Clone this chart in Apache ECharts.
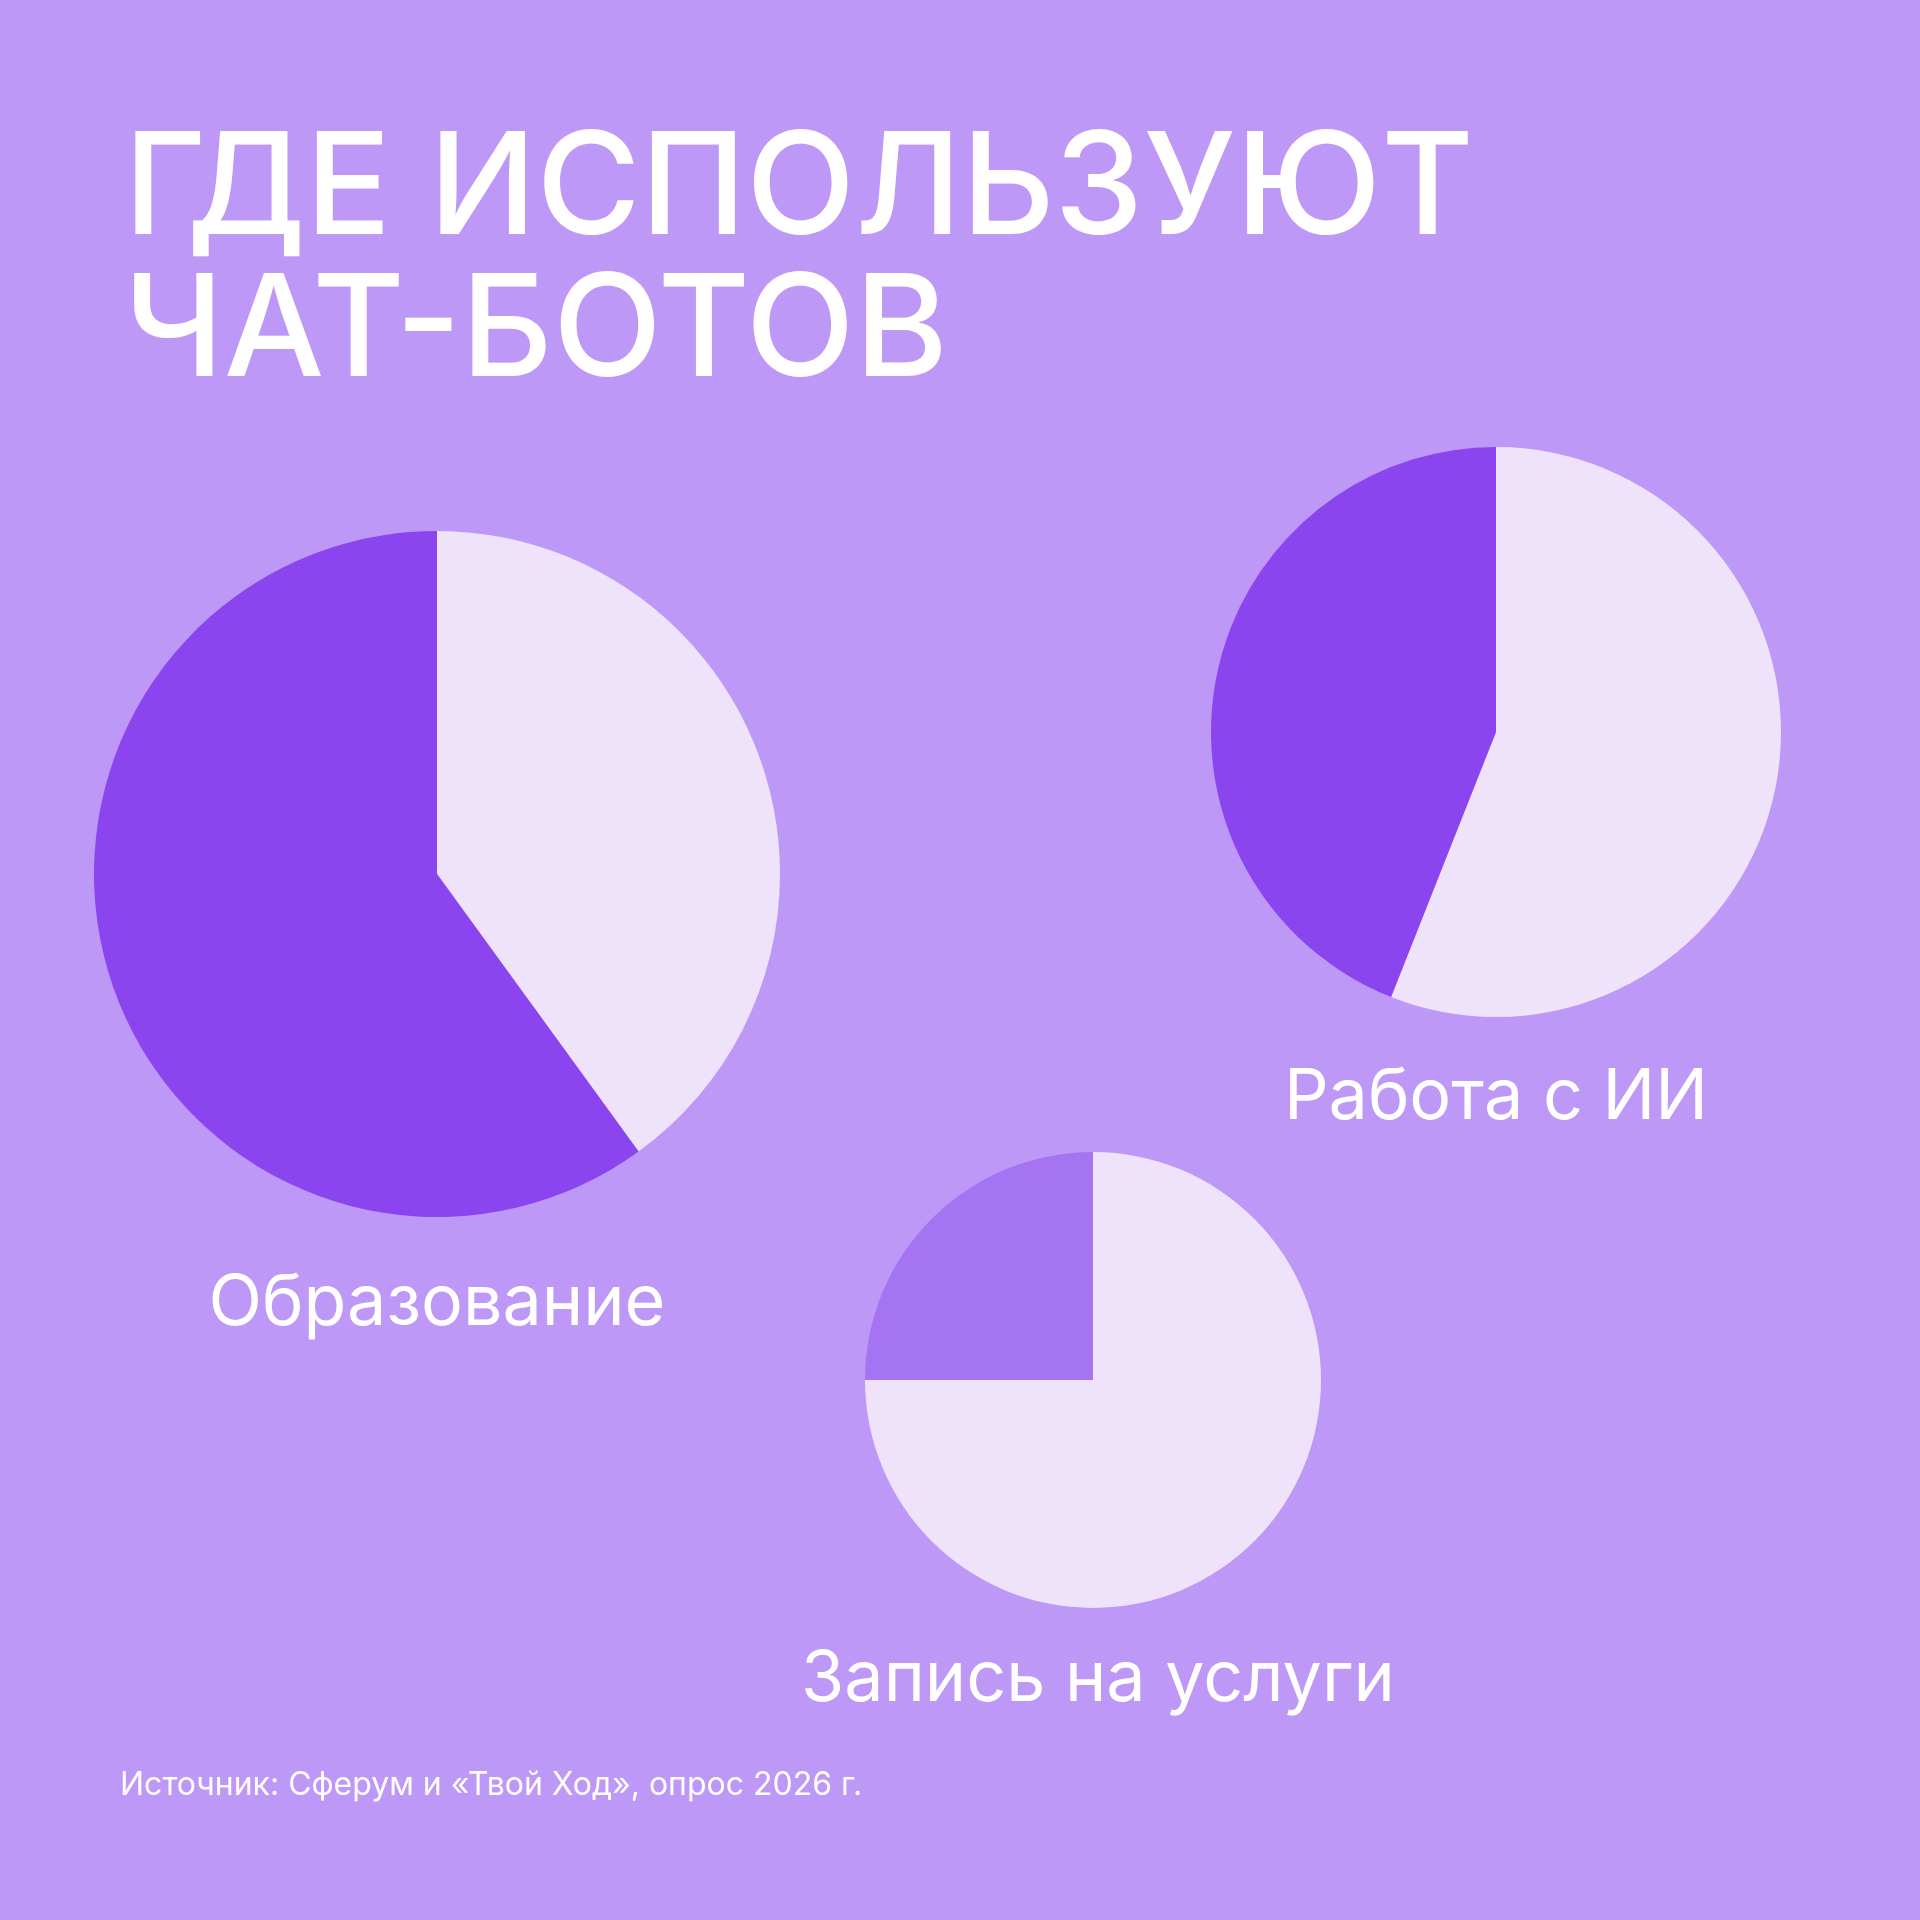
<!DOCTYPE html>
<html><head><meta charset="utf-8">
<script src="https://cdn.jsdelivr.net/npm/echarts@6/dist/echarts.min.js"></script>
<style>html,body{margin:0;padding:0;background:#bd98f7}#c{width:1920px;height:1920px}</style>
</head><body><div id="c"></div>
<script>
const categories = ['Образование', 'Работа с ИИ', 'Запись на услуги'];
const shares = [60, 44, 25];
const title = ['ГДЕ ИСПОЛЬЗУЮТ', 'ЧАТ-БОТОВ'];
const source = 'Источник: Сферум и «Твой Ход», опрос 2026 г.';

const layout = [
  {c:[437,874], r:343, col:'#8b45ee', pl:[288,937], pf:86, cl:[437,1304]},
  {c:[1496,732], r:285, col:'#8b45ee', pl:[1355,700], pf:86, cl:[1496,1098]},
  {c:[1093,1380], r:228, col:'#a574f2', pl:[992,1292], pf:66, cl:[1098,1680]}
];
const font = 'Inter, "Noto Sans", sans-serif';
const series = categories.map((name, i) => ({
  type:'pie', center:layout[i].c, radius:[0, layout[i].r], startAngle:90, clockwise:true,
  silent:true, label:{show:false}, labelLine:{show:false},
  data:[{value:100-shares[i], itemStyle:{color:'#efe3fc'}},
        {value:shares[i], itemStyle:{color:layout[i].col}}]
}));
const graphic = [];
title.forEach((t,i)=>graphic.push({type:'text', left:124, top:120+i*142,
  style:{text:t, fill:'#fff', font:'500 142px '+font}}));
categories.forEach((name,i)=>{
  const L = layout[i];
  graphic.push({type:'text', x:L.pl[0], y:L.pl[1], style:{text:shares[i]+'%', fill:'#fff',
    font:'500 '+L.pf+'px '+font, align:'center', verticalAlign:'middle'}});
  graphic.push({type:'text', x:L.cl[0], y:L.cl[1], style:{text:name, fill:'#fff',
    font:'400 70px '+font, align:'center', verticalAlign:'middle'}});
});
graphic.push({type:'text', x:120, y:1785, style:{text:source, fill:'#fff',
  font:'400 32px '+font, verticalAlign:'middle'}});
const chart = echarts.init(document.getElementById('c'));
chart.setOption({backgroundColor:'#bd98f7', animation:false, series, graphic});
</script></body></html>
